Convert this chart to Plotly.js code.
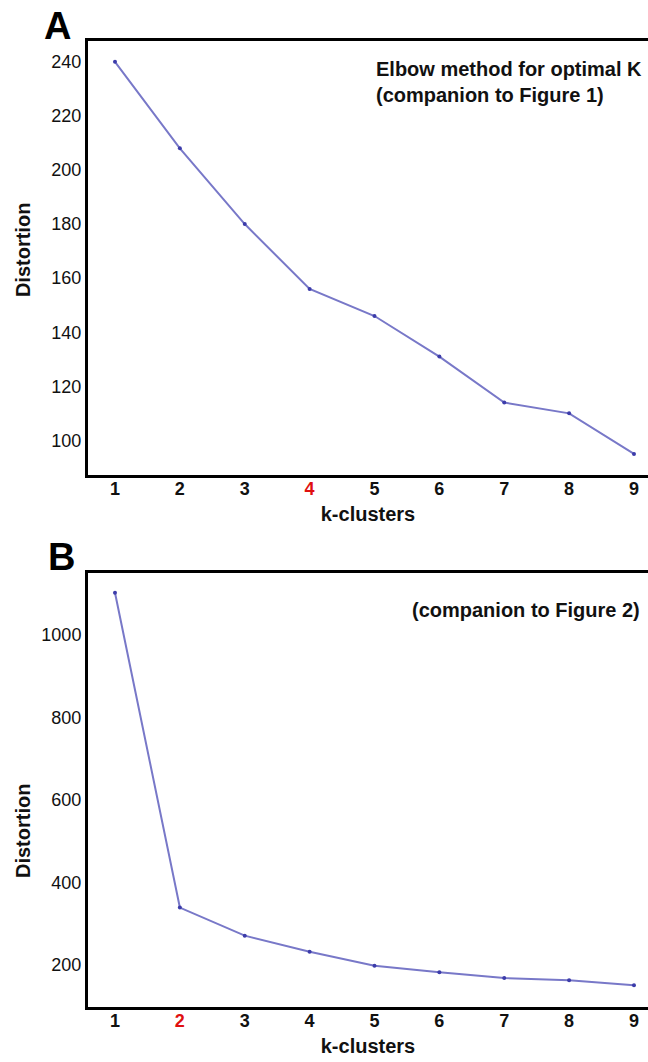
<!DOCTYPE html>
<html>
<head>
<meta charset="utf-8">
<script src="https://cdn.plot.ly/plotly-3.0.1.min.js"></script>
<style>html,body{margin:0;padding:0;background:#fff;}#chart{width:648px;height:1062px;}</style>
</head>
<body>
<div id="chart"></div>
<script>
// ---- data ----
const kClusters = [1, 2, 3, 4, 5, 6, 7, 8, 9];
const distortionA = [240, 208, 180, 156, 146, 131, 114, 110, 95];
const distortionB = [1102, 339, 271, 232, 198, 182, 168, 163, 151];
const xTickLabels = ['1', '2', '3', '4', '5', '6', '7', '8', '9'];
const optimalKA = 4;
const optimalKB = 2;
const yTicksA = [100, 120, 140, 160, 180, 200, 220, 240];
const yTicksB = [200, 400, 600, 800, 1000];
const titleA = 'Elbow method for optimal K<br>(companion to Figure 1)';
const titleB = '(companion to Figure 2)';

const FONT = 'Liberation Sans, Arial, Helvetica, sans-serif';
const lineColor = 'rgb(120,120,200)';
const markerColor = 'rgb(60,60,170)';

function tickText(optK) {
  return xTickLabels.map((t, i) => kClusters[i] === optK
    ? '<b><span style="color:#e01010">' + t + '</span></b>'
    : '<b>' + t + '</b>');
}

const traces = [
  {x: kClusters, y: distortionA, xaxis: 'x', yaxis: 'y', type: 'scatter', mode: 'lines+markers',
   line: {color: lineColor, width: 2}, marker: {color: markerColor, size: 4}, showlegend: false},
  {x: kClusters, y: distortionB, xaxis: 'x2', yaxis: 'y2', type: 'scatter', mode: 'lines+markers',
   line: {color: lineColor, width: 2}, marker: {color: markerColor, size: 4}, showlegend: false}
];

const xBase = {
  range: [0.584, 9.216], showline: true, linewidth: 3, linecolor: '#000', mirror: true,
  ticks: '', showgrid: false, zeroline: false, tickmode: 'array', tickvals: kClusters,
  ticklabelstandoff: -5,
  tickfont: {family: FONT, size: 18, color: '#111'}, automargin: false
};
const yBase = {
  showline: true, linewidth: 3, linecolor: '#000', ticks: '', showgrid: false, zeroline: false,
  tickmode: 'array', tickfont: {family: FONT, size: 18, color: '#111'}, automargin: false
};

const layout = {
  width: 648, height: 1062,
  margin: {l: 88, r: 0, t: 41, b: 55},
  paper_bgcolor: '#fff', plot_bgcolor: '#fff',
  font: {family: FONT, color: '#111'},
  xaxis: Object.assign({}, xBase, {anchor: 'y', ticktext: tickText(optimalKA),
    title: {text: '<b>k-clusters</b>', font: {family: FONT, size: 20, color: '#111'}, standoff: 10}}),
  yaxis: Object.assign({}, yBase, {anchor: 'x', domain: [0.5507, 1], range: [87.2, 247.7], tickvals: yTicksA}),
  xaxis2: Object.assign({}, xBase, {anchor: 'y2', ticktext: tickText(optimalKB),
    title: {text: '<b>k-clusters</b>', font: {family: FONT, size: 20, color: '#111'}, standoff: 10}}),
  yaxis2: Object.assign({}, yBase, {anchor: 'x2', domain: [0, 0.4493], range: [98, 1150], tickvals: yTicksB}),
  annotations: [
    {text: '<b>A</b>', xref: 'paper', yref: 'paper', x: -0.0536, y: 1.0155, xanchor: 'center', yanchor: 'middle',
     showarrow: false, font: {family: FONT, size: 38, color: '#000'}},
    {text: '<b>B</b>', xref: 'paper', yref: 'paper', x: -0.0482, y: 0.4658, xanchor: 'center', yanchor: 'middle',
     showarrow: false, font: {family: FONT, size: 38, color: '#000'}},
    {text: '<b>' + titleA + '</b>', xref: 'paper', yref: 'paper', x: 0.5107, y: 0.9576, xanchor: 'left', yanchor: 'middle',
     align: 'left', showarrow: false, font: {family: FONT, size: 20, color: '#111'}},
    {text: '<b>' + titleB + '</b>', xref: 'paper', yref: 'paper', x: 0.575, y: 0.411, xanchor: 'left', yanchor: 'middle',
     align: 'left', showarrow: false, font: {family: FONT, size: 20, color: '#111'}},
    {text: '<b>Distortion</b>', xref: 'paper', yref: 'paper', x: -0.116, y: 0.7836, xanchor: 'center', yanchor: 'middle',
     textangle: -90, showarrow: false, font: {family: FONT, size: 20, color: '#111'}},
    {text: '<b>Distortion</b>', xref: 'paper', yref: 'paper', x: -0.116, y: 0.1822, xanchor: 'center', yanchor: 'middle',
     textangle: -90, showarrow: false, font: {family: FONT, size: 20, color: '#111'}}
  ]
};

Plotly.newPlot('chart', traces, layout, {displayModeBar: false, staticPlot: true});
</script>
</body>
</html>
